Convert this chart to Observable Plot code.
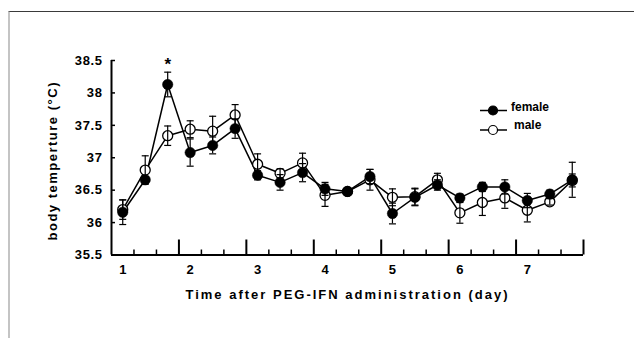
<!DOCTYPE html>
<html>
<head>
<meta charset="utf-8">
<script src="https://cdn.jsdelivr.net/npm/d3@7"></script>
<script src="https://cdn.jsdelivr.net/npm/@observablehq/plot@0.6"></script>
<style>
  html, body { margin: 0; padding: 0; background: #fff; }
  #wrap { position: relative; width: 634px; height: 338px; overflow: hidden; background: #fff; }
  #frame { position: absolute; z-index: 2; left: 8px; top: 11px; width: 630px; height: 340px;
           border-top: 1.5px solid #3a3a3a; border-left: 2px solid #c4c4c4; pointer-events: none; }
  svg { position: absolute; left: 0; top: 0; z-index: 1; }
</style>
</head>
<body>
<div id="wrap"><div id="frame"></div></div>
<script>
// Time points (category index; 3 per day, day labels every 3rd)
const timepoints = [1,2,3,4,5,6,7,8,9,10,11,12,13,14,15,16,17,18,19,20,21];
const dayLabels = ["1","2","3","4","5","6","7"];
const dayLabelPositions = [1,4,7,10,13,16,19];
const yTicks = [35.5, 36, 36.5, 37, 37.5, 38, 38.5];

const female    = [36.16,36.66,38.13,37.08,37.19,37.45,36.73,36.62,36.77,36.52,36.48,36.71,36.14,36.39,36.58,36.38,36.55,36.55,36.34,36.44,36.66];
const femaleErr = [0.19,0.05,0.19,0.21,0.13,0.15,0.07,0.12,0.14,0.10,0.05,0.11,0.16,0.13,0.08,0.06,0.07,0.11,0.11,0.06,0.27];
const male      = [36.20,36.81,37.34,37.44,37.41,37.66,36.90,36.76,36.92,36.42,36.48,36.66,36.39,36.40,36.66,36.15,36.31,36.38,36.19,36.32,36.65];
const maleErr   = [0.15,0.22,0.15,0.13,0.23,0.16,0.16,0.07,0.15,0.17,0.05,0.16,0.13,0.13,0.10,0.16,0.20,0.16,0.18,0.05,0.10];
const significant = [3]; // asterisk above female at this time point

const xTitle = "Time after PEG-IFN administration (day)";
const yTitle = "body temperture (°C)";

const xDomain = [0.5, 21.5];
const yDomain = [35.5, 38.5];

const fem = timepoints.map((t, i) => ({t, v: female[i], e: femaleErr[i]}));
const mal = timepoints.map((t, i) => ({t, v: male[i], e: maleErr[i]}));
const boundaries = timepoints.map(t => t - 0.5).concat([timepoints[timepoints.length - 1] + 0.5]);
const majorBoundaries = boundaries.filter((b, i) => i % 3 === 0 && i > 0);
const minorBoundaries = boundaries.filter((b, i) => i % 3 !== 0);

const capSymbol = { draw(ctx, size) { const w = 3.5; ctx.moveTo(-w, 0); ctx.lineTo(w, 0); } };

const font = "'Liberation Sans', Arial, sans-serif";

const chart = Plot.plot({
  width: 634, height: 338,
  marginLeft: 111, marginRight: 51, marginTop: 60, marginBottom: 83.5,
  style: { fontFamily: font, fontSize: "13px", fontWeight: "bold", color: "#000", background: "transparent" },
  x: { type: "linear", domain: xDomain, axis: null, label: null },
  y: { type: "linear", domain: yDomain, axis: null, label: null },
  marks: [
    // y axis
    Plot.axisY(yTicks, { tickSize: 0, tickPadding: 9, tickFormat: d => String(d), label: null }),
    Plot.axisY(yTicks, { tickSize: -4, tickFormat: () => "", strokeWidth: 1.5, label: null }),
    Plot.ruleX([xDomain[0]], { y1: yDomain[0], y2: yDomain[1], strokeWidth: 2 }),
    // x axis
    Plot.ruleY([yDomain[0]], { x1: xDomain[0], x2: xDomain[1], strokeWidth: 2 }),
    Plot.axisX(minorBoundaries, { tickSize: -5, tickFormat: () => "", strokeWidth: 1.5, label: null }),
    Plot.axisX(majorBoundaries, { tickSize: -15, tickFormat: () => "", strokeWidth: 2, label: null }),
    Plot.axisX(dayLabelPositions, { tickSize: 0, tickPadding: 10, tickFormat: d => dayLabels[dayLabelPositions.indexOf(d)], label: null }),
    // axis titles
    Plot.text([xTitle], { frameAnchor: "bottom", textAnchor: "middle", dy: 44, fontSize: 13 }),
    Plot.text([yTitle], { frameAnchor: "left", textAnchor: "middle", rotate: -90, dx: -59, dy: 3, fontSize: 13 }),
    // lines
    Plot.line(mal, { x: "t", y: "v", stroke: "black", strokeWidth: 1.5 }),
    Plot.line(fem, { x: "t", y: "v", stroke: "black", strokeWidth: 1.5 }),
    // markers
    Plot.dot(mal, { x: "t", y: "v", r: 5, fill: "white", stroke: "black", strokeWidth: 1.3 }),
    Plot.dot(fem, { x: "t", y: "v", r: 5.2, fill: "black", stroke: "black", strokeWidth: 0.5 }),
    // error bars
    Plot.ruleX(mal, { x: "t", y1: d => d.v - d.e, y2: d => d.v + d.e, stroke: "black", strokeWidth: 1.2 }),
    Plot.dot(mal, { x: "t", y: d => d.v - d.e, symbol: capSymbol, stroke: "black", strokeWidth: 1.2, fill: "none" }),
    Plot.dot(mal, { x: "t", y: d => d.v + d.e, symbol: capSymbol, stroke: "black", strokeWidth: 1.2, fill: "none" }),
    Plot.ruleX(fem, { x: "t", y1: d => d.v - d.e, y2: d => d.v + d.e, stroke: "black", strokeWidth: 1.2 }),
    Plot.dot(fem, { x: "t", y: d => d.v - d.e, symbol: capSymbol, stroke: "black", strokeWidth: 1.2, fill: "none" }),
    Plot.dot(fem, { x: "t", y: d => d.v + d.e, symbol: capSymbol, stroke: "black", strokeWidth: 1.2, fill: "none" }),
    // significance
    Plot.text(significant, { x: d => d, y: d => female[d - 1] + femaleErr[d - 1], text: () => "*", dy: -8, fontSize: 17 })
  ]
});

const svg = d3.select(chart);
// letter spacing to mimic the original wide bold face
svg.selectAll("text").each(function () {
  const s = this.textContent;
  if (s === xTitle) this.setAttribute("letter-spacing", "2");
  else if (s === yTitle) this.setAttribute("letter-spacing", "1.5");
});
svg.selectAll("g[aria-label='y-axis tick label'] text").attr("letter-spacing", "0.6");

// legend
const lg = svg.append("g").attr("font-family", font).attr("font-weight", "bold").attr("font-size", 12).attr("text-anchor", "start");
const legendItems = [
  { label: "female", fill: "black", y: 110.5, ty: 106.5, tx: 511 },
  { label: "male",   fill: "white", y: 130,   ty: 125,   tx: 514 }
];
legendItems.forEach(it => {
  lg.append("line").attr("x1", 480).attr("x2", 507).attr("y1", it.y).attr("y2", it.y).attr("stroke", "black").attr("stroke-width", 1.5);
  lg.append("circle").attr("cx", 493).attr("cy", it.y).attr("r", 4.5).attr("fill", it.fill).attr("stroke", "black").attr("stroke-width", 1.2);
  lg.append("text").attr("x", it.tx).attr("y", it.ty).attr("dy", "0.35em").text(it.label);
});

document.getElementById("wrap").appendChild(chart);
</script>
</body>
</html>
